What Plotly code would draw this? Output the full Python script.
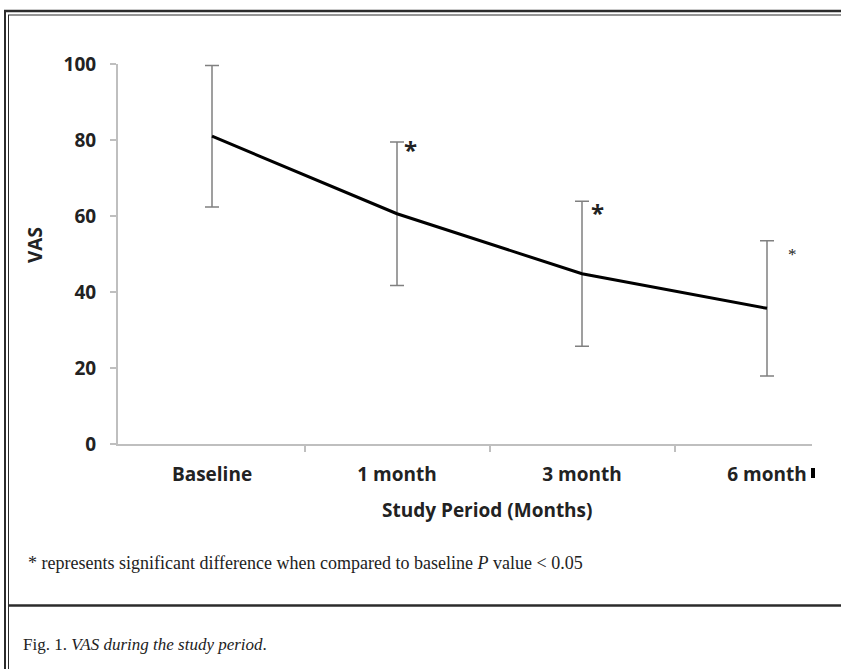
import plotly.graph_objects as go

# ---- data ----
categories = ["Baseline", "1 month", "3 month", "6 month"]
vas_mean = [81.0, 60.6, 44.8, 35.7]
vas_sd = [18.6, 18.9, 19.1, 17.8]
significant = [False, True, True, True]
y_ticks = [0, 20, 40, 60, 80, 100]

W, H = 841, 669
L, R, T, B = 118, 812, 64, 444  # plot area in pixels


def px(x):
    return (x - L) / (R - L)


def py(y):
    return (B - y) / (B - T)


xpos = list(range(len(categories)))

fig = go.Figure()
fig.add_trace(go.Scatter(
    x=xpos, y=vas_mean, mode="lines",
    line=dict(color="black", width=3),
    error_y=dict(type="data", array=vas_sd, visible=True,
                 color="#808080", thickness=1.5, width=7),
    showlegend=False, hoverinfo="skip",
))

# asterisks for significance
star_dx = [0, 0.075, 0.085, 0.14]
star_y = [0, 77.5, 61.0, 50.0]
star_size = [0, 24, 24, 17]
star_font = ["", "Open Sans", "Open Sans", "Liberation Serif"]
star_weight = ["", "bold", "bold", "normal"]
ann = []
for i, s in enumerate(significant):
    if s:
        ann.append(dict(x=xpos[i] + star_dx[i], y=star_y[i], xref="x", yref="y",
                        text="*", showarrow=False, xanchor="center", yanchor="middle",
                        font=dict(family=star_font[i], size=star_size[i], color="#222",
                                  weight=star_weight[i])))

title_font = dict(family="Open Sans", size=19, color="#222", weight="bold")
# axis titles
ann.append(dict(x=px(35), y=py(245), xref="paper", yref="paper", text="VAS",
                textangle=-90, showarrow=False, xanchor="center", yanchor="middle",
                font=title_font))
ann.append(dict(x=px(487), y=py(510), xref="paper", yref="paper",
                text="Study Period (Months)", showarrow=False,
                xanchor="center", yanchor="middle", font=title_font))

# footnote and caption
ann.append(dict(x=px(26), y=py(563), xref="paper", yref="paper",
                xanchor="left", yanchor="middle",
                text="* represents significant difference when compared to baseline <i>P</i> value &lt; 0.05",
                showarrow=False,
                font=dict(family="Liberation Serif", size=18, color="#222")))
ann.append(dict(x=px(21), y=py(644), xref="paper", yref="paper",
                xanchor="left", yanchor="middle",
                text="Fig. 1. <i>VAS during the study period</i>.",
                showarrow=False,
                font=dict(family="Liberation Serif", size=17, color="#222")))

frame_color = "#2b2b2b"
shapes = [
    # outer frame top (double line)
    dict(type="line", xref="paper", yref="paper", x0=px(4), x1=px(850), y0=py(11), y1=py(11),
         line=dict(color=frame_color, width=2.5)),
    dict(type="line", xref="paper", yref="paper", x0=px(8), x1=px(850), y0=py(15), y1=py(15),
         line=dict(color=frame_color, width=1)),
    # left side double line
    dict(type="line", xref="paper", yref="paper", x0=px(5), x1=px(5), y0=py(10), y1=py(675),
         line=dict(color=frame_color, width=2)),
    dict(type="line", xref="paper", yref="paper", x0=px(8.5), x1=px(8.5), y0=py(15), y1=py(675),
         line=dict(color=frame_color, width=1)),
    # separator above caption
    dict(type="line", xref="paper", yref="paper", x0=px(8), x1=px(850), y0=py(605.5), y1=py(605.5),
         line=dict(color=frame_color, width=2.5)),
    # small black block at the clipped label edge
    dict(type="rect", xref="paper", yref="paper", x0=px(811), x1=px(815), y0=py(468), y1=py(478),
         fillcolor="black", line=dict(width=0)),
]

axis_font = dict(family="Open Sans", size=19, color="#222", weight="bold")

fig.update_layout(
    width=W, height=H,
    margin=dict(l=L, r=W - R, t=T, b=H - B),
    paper_bgcolor="white", plot_bgcolor="white",
    annotations=ann, shapes=shapes,
    xaxis=dict(
        range=[(L - 212) / 185, (R - 212) / 185],
        tickmode="array", tickvals=xpos, ticktext=categories,
        ticks="", showgrid=False, zeroline=False,
        showline=True, linecolor="#bfbfbf", linewidth=2,
        tickfont=axis_font, ticklabelstandoff=12,
        minor=dict(tickmode="array", tickvals=[0.5, 1.5, 2.5], ticks="outside",
                   ticklen=6, tickcolor="#bfbfbf", tickwidth=1.5, showgrid=False),
    ),
    yaxis=dict(
        range=[0, 100], tickmode="array", tickvals=y_ticks,
        ticks="outside", ticklen=6, tickcolor="#bfbfbf", tickwidth=1.5,
        showgrid=False, zeroline=False,
        showline=True, linecolor="#bfbfbf", linewidth=2,
        tickfont=axis_font, ticklabelstandoff=10,
    ),
)

fig.write_html("out.html", config={"displayModeBar": False},
               post_script="document.body.style.margin='0';document.body.style.overflow='hidden';")
